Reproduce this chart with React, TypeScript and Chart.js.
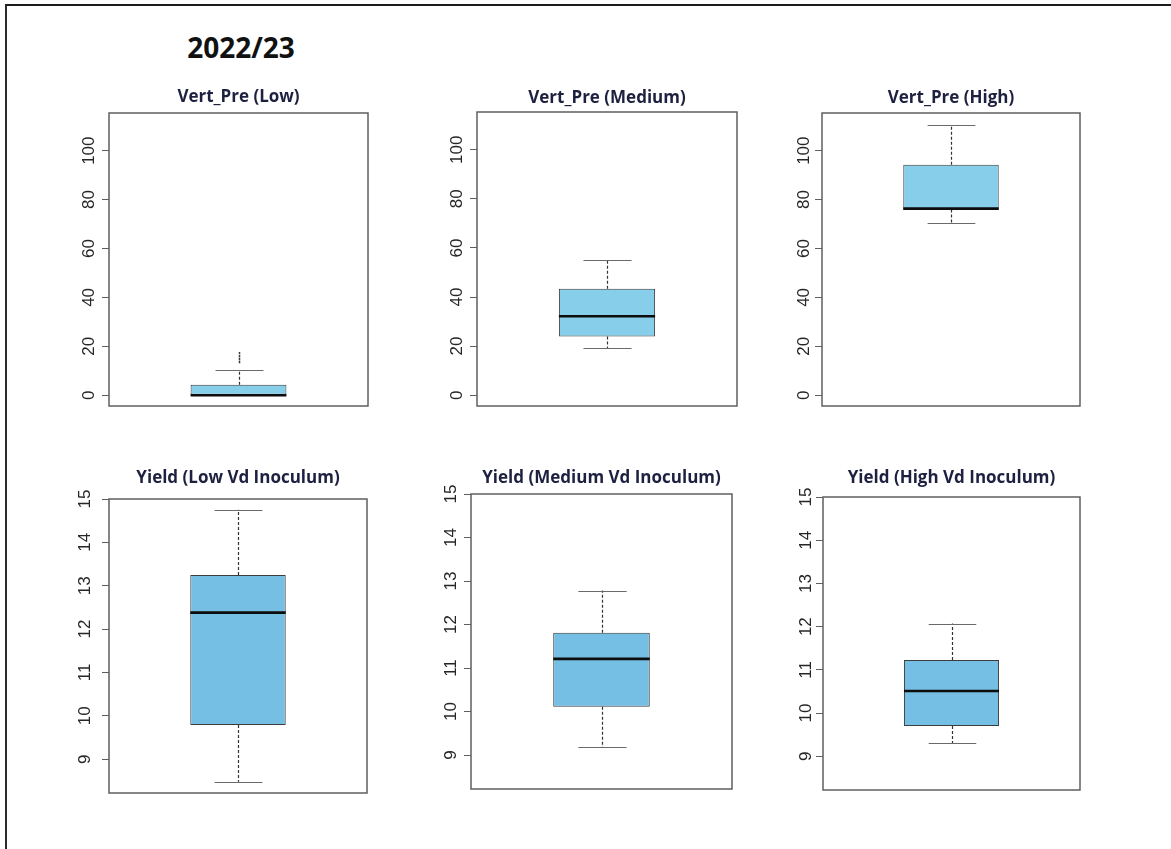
import React, { useEffect, useRef } from "react";
import { Chart, registerables } from "chart.js";

Chart.register(...registerables);

// ---- data ----
const seasonLabel = "2022/23";

const vertTitles = ["Vert_Pre (Low)", "Vert_Pre (Medium)", "Vert_Pre (High)"];
const vertMin = [0, 19.2, 70.6];
const vertQ1 = [0, 23.9, 75.9];
const vertMedian = [0, 32.2, 76.3];
const vertQ3 = [4.3, 43.4, 94.2];
const vertMax = [10.4, 55.0, 110.6];
const vertOutliers = [[13.6, 14.8, 16.0, 17.2], [], []];
const vertTicks = [0, 20, 40, 60, 80, 100];
const vertRange = [-4.4, 115.4];

const yieldTitles = [
  "Yield (Low Vd Inoculum)",
  "Yield (Medium Vd Inoculum)",
  "Yield (High Vd Inoculum)",
];
const yieldMin = [8.48, 9.18, 9.3];
const yieldQ1 = [9.79, 10.11, 9.7];
const yieldMedian = [12.38, 11.21, 10.51];
const yieldQ3 = [13.25, 11.81, 11.23];
const yieldMax = [14.75, 12.78, 12.07];
const yieldOutliers = [[], [], []];
const yieldTicks = [9, 10, 11, 12, 13, 14, 15];
const yieldRange = [8.22, 15.0];

// ---- layout (plot frame in page pixels) ----
const AXIS_W = 60;
const RIGHT_PAD = 10;
const BOTTOM_PAD = 20;
const TITLE_SIZE = 17;
const TICK_SIZE = 17;

const topFrames = [
  { left: 109, top: 113, right: 368, bottom: 406, titleY: 97, labelPad: -1.5 },
  { left: 477, top: 112, right: 737, bottom: 406, titleY: 98, labelPad: -1.5 },
  { left: 822, top: 113, right: 1080, bottom: 406, titleY: 98, labelPad: -3.5 },
];
const bottomFrames = [
  { left: 109, top: 499, right: 367, bottom: 793, titleY: 478, labelPad: 7.5 },
  { left: 471, top: 494, right: 732, bottom: 789, titleY: 478, labelPad: 3 },
  { left: 823, top: 497, right: 1080, bottom: 790, titleY: 478, labelPad: 0.5 },
];

type Stats = {
  min: number;
  q1: number;
  median: number;
  q3: number;
  max: number;
  outliers: number[];
};

type Frame = {
  left: number;
  top: number;
  right: number;
  bottom: number;
  titleY: number;
  labelPad: number;
};

function boxWhiskerPlugin(stats: Stats) {
  return {
    id: "boxWhisker",
    afterDatasetsDraw(chart: any) {
      const bar: any = chart.getDatasetMeta(0).data[0];
      const y = chart.scales.y;
      const ctx = chart.ctx;
      const cx = Math.round(bar.x) + 0.5;
      const half = bar.width / 2;
      const capHalf = half / 2;
      const py = (v: number) => y.getPixelForValue(v);

      ctx.save();
      // dashed whiskers
      ctx.strokeStyle = "#333333";
      ctx.lineWidth = 1.2;
      ctx.setLineDash([3, 2]);
      ctx.beginPath();
      ctx.moveTo(cx, py(stats.q3));
      ctx.lineTo(cx, py(stats.max));
      ctx.moveTo(cx, py(stats.q1));
      ctx.lineTo(cx, py(stats.min));
      ctx.stroke();
      ctx.setLineDash([]);

      // whisker caps
      ctx.strokeStyle = "#6a6a6a";
      ctx.lineWidth = 1;
      ctx.beginPath();
      const yMax = Math.round(py(stats.max)) + 0.5;
      const yMin = Math.round(py(stats.min)) + 0.5;
      ctx.moveTo(cx - capHalf, yMax);
      ctx.lineTo(cx + capHalf, yMax);
      if (stats.min !== stats.q1) {
        ctx.moveTo(cx - capHalf, yMin);
        ctx.lineTo(cx + capHalf, yMin);
      }
      ctx.stroke();

      // outliers drawn as short dark dashes
      ctx.strokeStyle = "#3a3a3a";
      ctx.lineWidth = 1.5;
      ctx.beginPath();
      stats.outliers.forEach((v) => {
        const p = py(v);
        ctx.moveTo(cx, p - 1.2);
        ctx.lineTo(cx, p + 1.2);
      });
      ctx.stroke();

      // median
      ctx.strokeStyle = "#0d0d0d";
      ctx.lineWidth = 2.6;
      ctx.beginPath();
      const ym = py(stats.median);
      ctx.moveTo(bar.x - half, ym);
      ctx.lineTo(bar.x + half, ym);
      ctx.stroke();
      ctx.restore();
    },
    afterDraw(chart: any) {
      const { left, top, right, bottom } = chart.chartArea;
      const ctx = chart.ctx;
      ctx.save();
      ctx.strokeStyle = "#5f5f5f";
      ctx.lineWidth = 1.5;
      ctx.strokeRect(left, top, right - left, bottom - top);
      ctx.restore();
    },
  };
}

type PanelProps = {
  frame: Frame;
  title: string;
  stats: Stats;
  ticks: number[];
  range: number[];
  fill: string;
};

function BoxPanel({ frame, title, stats, ticks, range, fill }: PanelProps) {
  const ref = useRef<HTMLCanvasElement>(null);
  const canvasTop = frame.titleY - 20;
  const width = AXIS_W + (frame.right - frame.left) + RIGHT_PAD;
  const height = frame.bottom - canvasTop + BOTTOM_PAD;
  const lineH = TITLE_SIZE * 1.2;
  const titlePadTop = 20 - lineH / 2;
  const titlePadBottom = frame.top - canvasTop - titlePadTop - lineH;

  useEffect(() => {
    if (!ref.current) return;
    const chart = new Chart(ref.current, {
      type: "bar",
      data: {
        labels: [title],
        datasets: [
          {
            data: [[stats.q1, stats.q3]] as any,
            backgroundColor: fill,
            borderColor: "#3c3c3c",
            borderWidth: 1,
            borderSkipped: false,
            barPercentage: 0.37,
            categoryPercentage: 1,
          },
        ],
      },
      options: {
        responsive: false,
        animation: false,
        events: [],
        layout: { padding: { left: 0, right: RIGHT_PAD, top: 0, bottom: BOTTOM_PAD } },
        plugins: {
          legend: { display: false },
          tooltip: { enabled: false },
          title: {
            display: true,
            text: title,
            fullSize: false,
            color: "#1e2040",
            font: { family: "'Open Sans', sans-serif", weight: "bold", size: TITLE_SIZE, lineHeight: 1.2 },
            padding: { top: titlePadTop, bottom: titlePadBottom },
          },
        },
        scales: {
          x: { display: false, offset: true },
          y: {
            min: range[0],
            max: range[1],
            border: { display: false },
            grid: {
              display: true,
              drawOnChartArea: false,
              drawTicks: true,
              tickLength: 7,
              color: "#5f5f5f",
              lineWidth: 1,
            },
            afterBuildTicks: (scale: any) => {
              scale.ticks = ticks.map((v) => ({ value: v }));
            },
            afterFit: (scale: any) => {
              scale.width = AXIS_W;
            },
            ticks: {
              autoSkip: false,
              minRotation: 90,
              maxRotation: 90,
              crossAlign: "center",
              padding: frame.labelPad,
              color: "#262626",
              font: { family: "'Liberation Sans', Arial, sans-serif", size: TICK_SIZE },
              callback: (v: any) => String(v),
            },
          },
        },
      },
      plugins: [boxWhiskerPlugin(stats)],
    } as any);
    return () => chart.destroy();
  }, []);

  return (
    <canvas
      ref={ref}
      width={width}
      height={height}
      style={{
        position: "absolute",
        left: frame.left - AXIS_W,
        top: canvasTop,
        width,
        height,
      }}
    />
  );
}

function statsAt(
  i: number,
  mins: number[],
  q1s: number[],
  meds: number[],
  q3s: number[],
  maxs: number[],
  outs: number[][]
): Stats {
  return { min: mins[i], q1: q1s[i], median: meds[i], q3: q3s[i], max: maxs[i], outliers: outs[i] };
}

export default function App() {
  return (
    <div
      style={{
        position: "absolute",
        left: 0,
        top: 0,
        width: 1171,
        height: 849,
        overflow: "hidden",
        background: "#ffffff",
      }}
    >
      <div
        style={{
          position: "absolute",
          left: 5,
          top: 4,
          width: 1300,
          height: 1000,
          borderTop: "2px solid #1b1b1b",
          borderLeft: "2px solid #2b2b2b",
        }}
      />
      <div
        style={{
          position: "absolute",
          left: 141,
          top: 30,
          width: 200,
          lineHeight: "34px",
          textAlign: "center",
          fontFamily: "'Open Sans', sans-serif",
          fontWeight: 700,
          fontSize: 28,
          color: "#111111",
        }}
      >
        {seasonLabel}
      </div>
      {topFrames.map((f, i) => (
        <BoxPanel
          key={"v" + i}
          frame={f}
          title={vertTitles[i]}
          stats={statsAt(i, vertMin, vertQ1, vertMedian, vertQ3, vertMax, vertOutliers)}
          ticks={vertTicks}
          range={vertRange}
          fill="#87CEEB"
        />
      ))}
      {bottomFrames.map((f, i) => (
        <BoxPanel
          key={"y" + i}
          frame={f}
          title={yieldTitles[i]}
          stats={statsAt(i, yieldMin, yieldQ1, yieldMedian, yieldQ3, yieldMax, yieldOutliers)}
          ticks={yieldTicks}
          range={yieldRange}
          fill="#75BFE4"
        />
      ))}
    </div>
  );
}
